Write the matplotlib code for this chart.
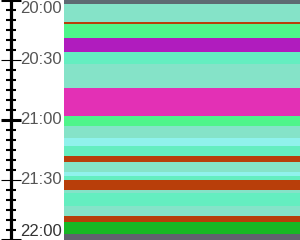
import matplotlib
matplotlib.use("Agg")
import matplotlib.pyplot as plt
from matplotlib.ticker import MultipleLocator

# ---- data ----
band_start = ["20:00", "20:02", "20:11", "20:12", "20:19", "20:26", "20:32", "20:44",
              "20:58", "21:03", "21:09", "21:13", "21:18", "21:21", "21:26", "21:28",
              "21:30", "21:35", "21:36:30", "21:43", "21:48", "21:51", "21:57"]
band_end = ["20:02", "20:11", "20:12", "20:19", "20:26", "20:32", "20:44", "20:58",
            "21:03", "21:09", "21:13", "21:18", "21:21", "21:26", "21:28", "21:30",
            "21:35", "21:36:30", "21:43", "21:48", "21:51", "21:57", "22:00"]
band_color = ["#5e6a72", "#85e3c8", "#b83e0a", "#4ef58a", "#b01cbe", "#64eec0", "#85e3c8", "#e330b5",
              "#4ef58a", "#85e3c8", "#90f2ec", "#64eec0", "#b83e0a", "#85e3c8", "#90f2ec", "#64eec0",
              "#b83e0a", "#85e3c8", "#64eec0", "#85e3c8", "#b83e0a", "#17b824", "#60626e"]
tick_labels = ["20:00", "20:30", "21:00", "21:30", "22:00"]
t0, t1 = "20:00", "22:00"


def minutes(s):
    p = [int(x) for x in s.split(":")]
    m = p[0] * 60 + p[1]
    if len(p) > 2:
        m += p[2] / 60.0
    return m

base = minutes(t0)
y0 = [minutes(s) - base for s in band_start]
y1 = [minutes(s) - base for s in band_end]
ymax = minutes(t1) - base

W, H = 300, 240
fig = plt.figure(figsize=(W / 100, H / 100), dpi=100)
fig.patch.set_facecolor("white")

# bands
ax = fig.add_axes([64 / W, 0, 1 - 64 / W, 1])
ax.barh(y0, [1] * len(y0), height=[b - a for a, b in zip(y0, y1)], left=0,
        align="edge", color=band_color, linewidth=0)
ax.set_xlim(0, 1)
ax.set_ylim(ymax, 0)
ax.axis("off")

# time axis
ax2 = fig.add_axes([0, 0, 64 / W, 1], sharey=ax)
ax2.set_facecolor("none")
for s in ["top", "right", "bottom"]:
    ax2.spines[s].set_visible(False)
ax2.spines["left"].set_position(("axes", 10.5 / 64))
ax2.spines["left"].set_linewidth(2.3)
ax2.spines["left"].set_color("black")
ax2.set_xticks([])
ax2.yaxis.set_major_locator(MultipleLocator(30))
ax2.yaxis.set_minor_locator(MultipleLocator(5))
ax2.tick_params(axis="y", which="major", direction="inout", length=14, width=0.8,
                color="black", labelleft=False)
ax2.tick_params(axis="y", which="minor", direction="inout", length=7.2, width=1.5,
                color="black")
ax2.set_ylim(ymax, 0)
fig.canvas.draw()
for tk in ax2.yaxis.get_major_ticks():
    loc = tk.get_loc()
    if loc is not None and abs(loc % 60) < 1e-6:
        tk.tick1line.set_markeredgewidth(2.2)

n = len(tick_labels)
for i, lab in enumerate(tick_labels):
    yv = i * ymax / (n - 1)
    va = "center"
    dy = 0
    if i == 0:
        va = "top"
        dy = -0.5
    elif i == n - 1:
        va = "bottom"
        dy = 0.5
    ax2.annotate(lab, (20 / 64, yv), xycoords=ax2.get_yaxis_transform(),
                 xytext=(0, dy), textcoords="offset points", ha="left", va=va,
                 fontsize=12, family="Liberation Sans",
                 color="#333333" if i == n - 1 else "#555555")

fig.savefig("out.png", dpi=100)
